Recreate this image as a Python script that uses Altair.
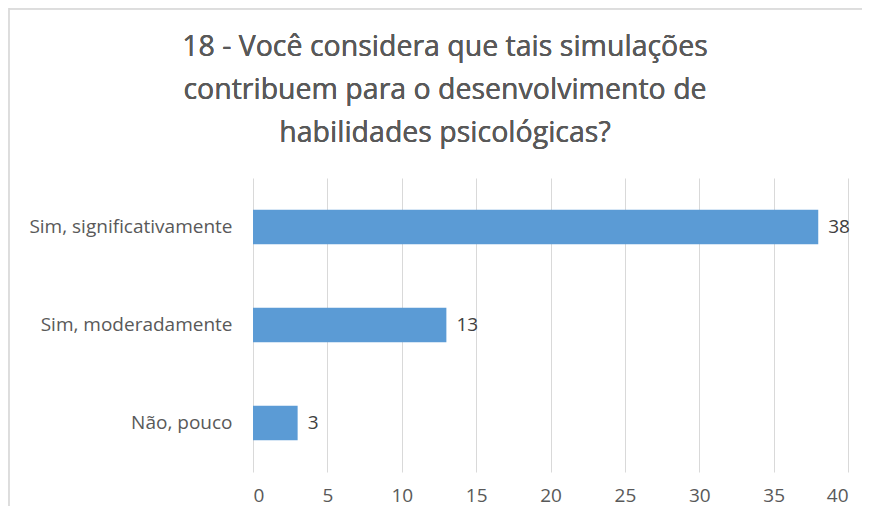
import altair as alt
import pandas as pd

categories = ["Sim, significativamente", "Sim, moderadamente", "Não, pouco"]
values = [38, 13, 3]
x_ticks = [0, 5, 10, 15, 20, 25, 30, 35, 40]
title_lines = ["18 - Você considera que tais simulações",
               "contribuem para o desenvolvimento de",
               "habilidades psicológicas?"]

df = pd.DataFrame({"cat": categories, "val": values})

FONT = "Open Sans"
GRAY = "#595959"

y_enc = alt.Y("cat:N", sort=categories, title=None,
              scale=alt.Scale(paddingInner=0.65, paddingOuter=0.325),
              axis=alt.Axis(labelFontSize=19, labelColor=GRAY, labelFont=FONT,
                            labelLimit=400, ticks=False, domain=False,
                            labelPadding=21, grid=False))
x_enc = alt.X("val:Q", title=None,
              scale=alt.Scale(domain=[0, 40], nice=False),
              axis=alt.Axis(values=x_ticks, labelFontSize=19, labelColor=GRAY, labelFont=FONT,
                            ticks=False, domain=False, labelPadding=14,
                            grid=True, gridColor="#d9d9d9", gridWidth=1))

bars = alt.Chart(df).mark_bar(color="#5B9BD5").encode(x=x_enc, y=y_enc)
labels = alt.Chart(df).mark_text(align="left", dx=10, fontSize=19, font=FONT,
                                 color="#404040").encode(
    x="val:Q", y=alt.Y("cat:N", sort=categories), text="val:Q")

border_left = alt.Chart(df).mark_rule(color="#d9d9d9", strokeWidth=1).encode(
    x=alt.value(-244), y=alt.value(-170), y2=alt.value(400))
border_top = alt.Chart(df).mark_rule(color="#d9d9d9", strokeWidth=1).encode(
    x=alt.value(-244), x2=alt.value(700), y=alt.value(-169))

title_layers = []
for i, line in enumerate(title_lines):
    title_layers.append(
        alt.Chart(df).mark_text(fontSize=28.5, font=FONT, color=GRAY, align="center",
                                baseline="middle", fontWeight="normal").encode(
            x=alt.value(192), y=alt.value(-131 + 43 * i), text=alt.value(line)))

chart = alt.layer(border_left, border_top, bars, labels, *title_layers).properties(
    width=595, height=294,
    padding={"left": 245, "top": 170, "right": 14, "bottom": 34},
    autosize=alt.AutoSizeParams(type="none"),
).configure_view(stroke=None)

chart.save("out.html", embed_options={"renderer": "svg", "actions": False})
